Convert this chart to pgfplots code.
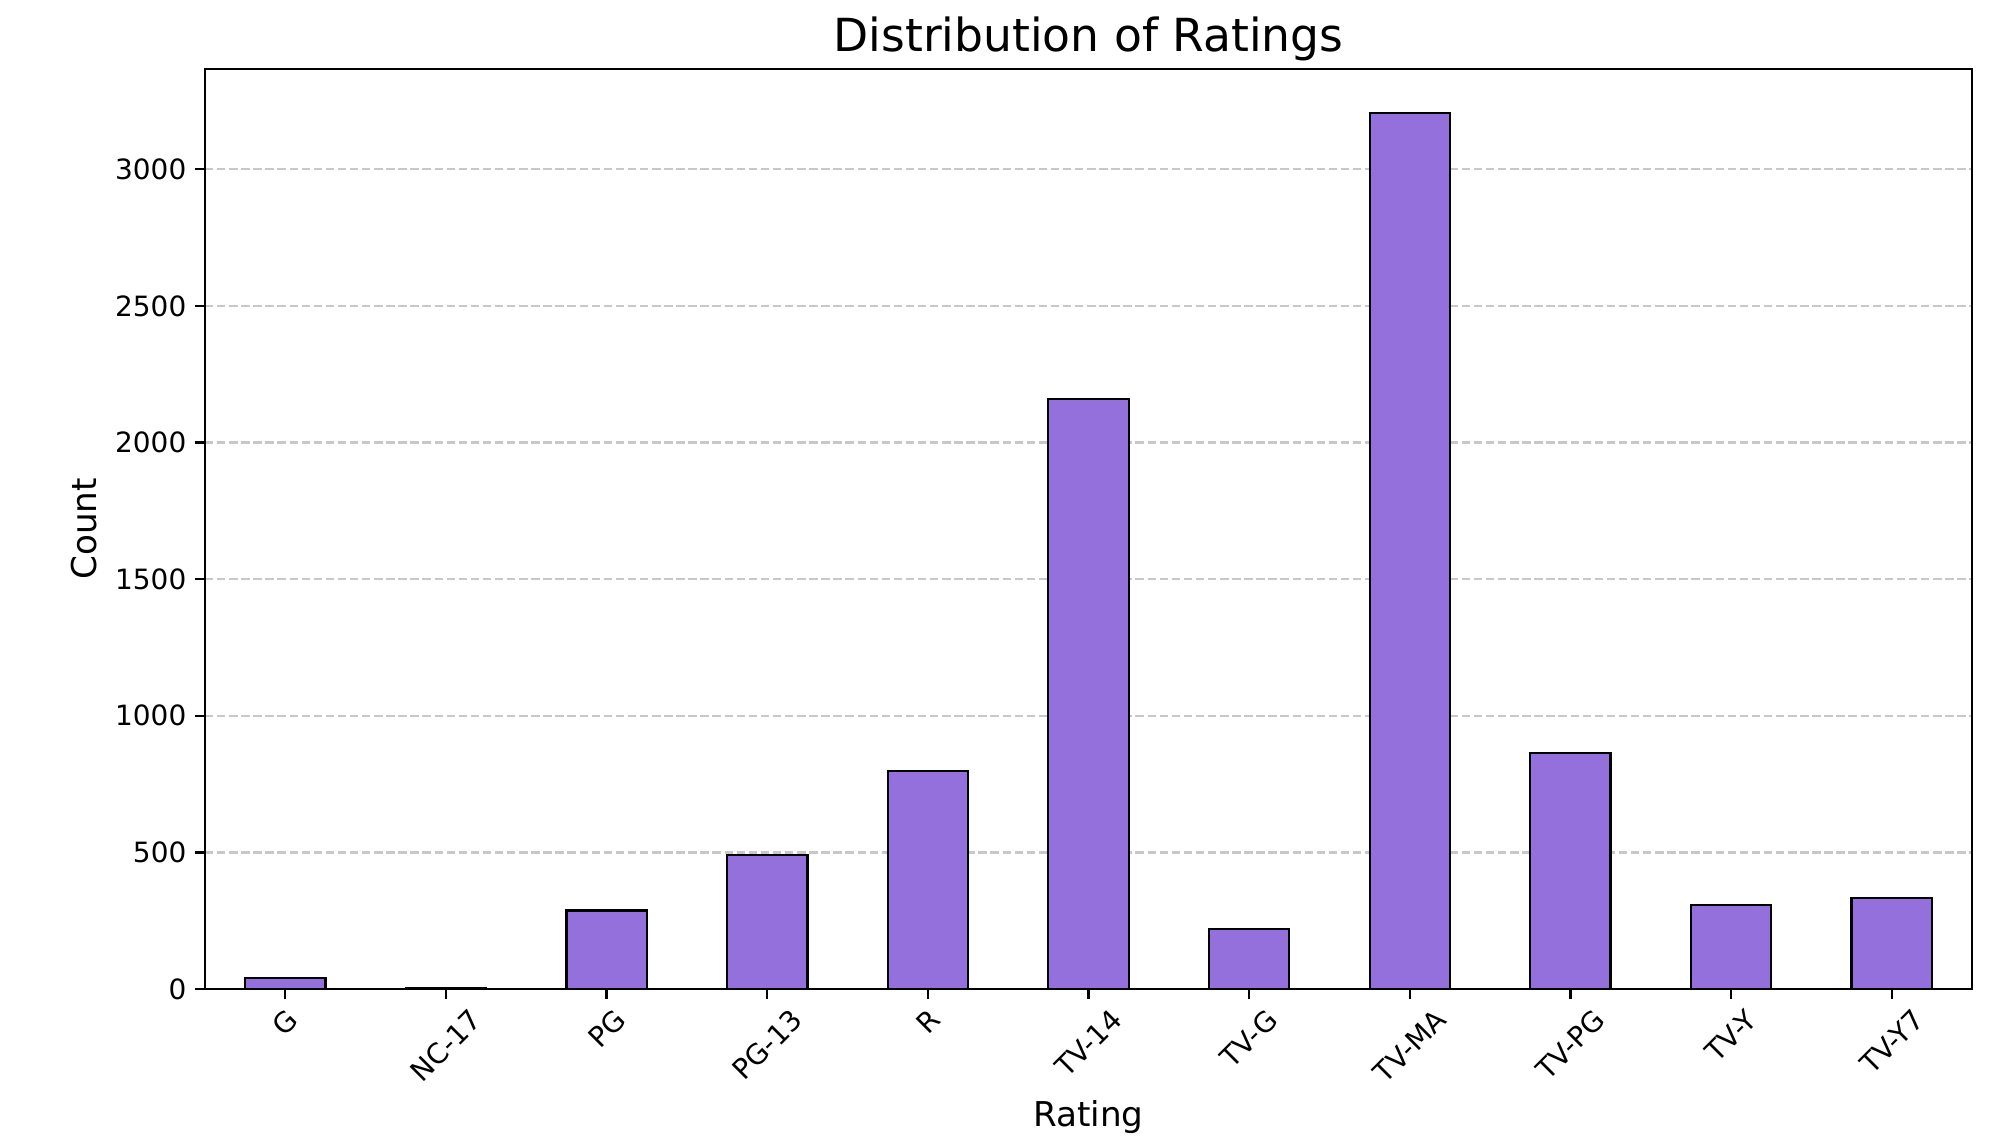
\documentclass[border=0pt]{standalone}
\usepackage{pgfplots}
\pgfplotsset{compat=1.18}
\usepackage{graphicx}
\usepackage{fontspec}
\setmainfont{DejaVu Sans}
\definecolor{barfill}{RGB}{147,112,219}
\definecolor{gridc}{RGB}{200,200,200}
\begin{document}
\begin{tikzpicture}
\useasboundingbox (-71.9pt,-55.1pt) rectangle (629.1pt,347pt);
\begin{axis}[
  name=ax,
  at={(0pt,0pt)}, anchor=south west,
  scale only axis,
  width=620pt, height=322.8pt,
  xmin=-0.5, xmax=10.5,
  ymin=0, ymax=3367,
  axis line style={line width=0.8pt},
  tick style={line width=0.8pt, black},
  tick align=outside,
  major tick length=3.5pt,
  xtick={0,1,2,3,4,5,6,7,8,9,10},
  xticklabels={\rotatebox{45}{G},\rotatebox{45}{NC-17},\rotatebox{45}{PG},\rotatebox{45}{PG-13},\rotatebox{45}{R},\rotatebox{45}{TV-14},\rotatebox{45}{TV-G},\rotatebox{45}{TV-MA},\rotatebox{45}{TV-PG},\rotatebox{45}{TV-Y},\rotatebox{45}{TV-Y7}},
  ytick={0,500,1000,1500,2000,2500,3000},
  xtick pos=bottom, ytick pos=left,
  tick label style={font=\fontsize{9.8}{11}\selectfont},
  /pgf/number format/assume math mode=true,
  /pgf/number format/1000 sep={},
  xticklabel style={anchor=north, yshift=0.5pt},
  yticklabel style={anchor=east, xshift=0.5pt},
  ymajorgrids=true,
  grid style={gridc, line width=0.8pt, dash pattern=on 2.96pt off 1.28pt},
  title={Distribution of Ratings},
  every axis title/.style={font=\fontsize{16}{19}\selectfont, inner sep=0pt, at={(axis description cs:0.5,1.0189)}, anchor=base},
  xlabel={Rating},
  xlabel style={font=\fontsize{12}{14}\selectfont, inner sep=0pt, at={(axis description cs:0.5,-0.1497)}, anchor=base},
  ylabel={Count},
  ylabel style={font=\fontsize{12}{14}\selectfont, inner sep=0pt, at={(axis description cs:-0.0616,0.5)}, anchor=base},
]
\addplot[ybar, bar width=0.5, fill=barfill, draw=black, line width=0.8pt]
  coordinates {(0,41) (1,3) (2,287) (3,490) (4,799) (5,2160) (6,220) (7,3207) (8,863) (9,307) (10,334)};
\end{axis}
\end{tikzpicture}
\end{document}
